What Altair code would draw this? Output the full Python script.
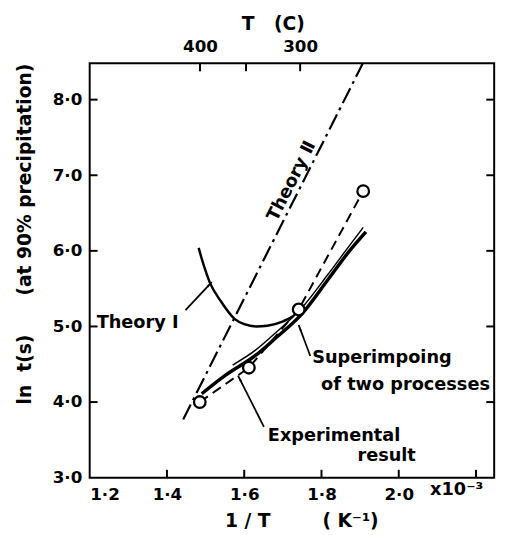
import math
import altair as alt
import pandas as pd

# ---------------- data ----------------
x_domain = [1.2, 2.247]          # 1/T  (x10^-3 K^-1)
y_domain = [3.0, 8.48]           # ln t(s)
x_ticks = [1.2, 1.4, 1.6, 1.8, 2.0, 2.2]
y_ticks = [3, 4, 5, 6, 7, 8]
right_ticks = [4, 5, 6, 7, 8]
top_T_C = [400, 350, 300]        # T (C) ticks on the top axis

# experimental result (circles joined by dashed line)
exp_x = [1.485, 1.612, 1.741, 1.908]
exp_y = [4.00, 4.455, 5.225, 6.79]

# Theory II (dash-dot straight line)
th2_x = [1.442, 1.907]
th2_y = [3.77, 8.48]

# Theory I (U-shaped curve)
th1_x = [1.482, 1.497, 1.511, 1.54, 1.575, 1.60, 1.631, 1.66, 1.699, 1.725]
th1_y = [6.04, 5.78, 5.58, 5.33, 5.10, 5.03, 5.00, 5.01, 5.065, 5.13]

# Superimposing of two processes (thick solid) and the thin companion line
sup_x = [1.490, 1.55, 1.63, 1.68, 1.75, 1.817, 1.868, 1.915]
sup_y = [4.11, 4.35, 4.62, 4.84, 5.17, 5.62, 5.97, 6.25]
sup2_x = [1.57, 1.63, 1.68, 1.75, 1.817, 1.868, 1.908]
sup2_y = [4.49, 4.69, 4.91, 5.25, 5.69, 6.04, 6.31]

# annotation texts and their anchors (data coordinates)
labels = ["Theory \u2160", "Superimpoing", "of two processes", "Experimental", "result"]
label_x = [1.218, 1.776, 1.799, 1.661, 1.893]
label_y = [5.04, 4.58, 4.23, 3.547, 3.286]

unit_label = "x10\u207b\u00b3"
unit_x = 2.150
unit_y = 2.835

th2_label = "Theory \u2161"
th2_label_x = 1.7233
th2_label_y = 6.92

# arrows: start -> tip
arrow_x1 = [1.448, 1.771, 1.651]
arrow_y1 = [5.217, 4.61, 3.673]
arrow_x2 = [1.516, 1.741, 1.584]
arrow_y2 = [5.587, 5.02, 4.35]

# ---------------- chart ----------------
W, H = 411, 421
px_x = W / (x_domain[1] - x_domain[0])
px_y = H / (y_domain[1] - y_domain[0])
TICK = 8  # inward tick length in px

FONT = "DejaVu Sans"
xs = alt.Scale(domain=x_domain, nice=False, zero=False)
ys = alt.Scale(domain=y_domain, nice=False, zero=False)

tick_style = dict(ticks=False, tickSize=0, domain=False, grid=False,
                  labelFont=FONT, labelFontSize=17, labelFontWeight="bold", labelColor="black",
                  titleFont=FONT, titleFontSize=19, titleFontWeight="bold", titleColor="black",
                  titleAlign="center", titleBaseline="middle")

fmt = "replace(format(datum.value, '.1f'), '.', '\u00b7')"

x_axis = alt.Axis(orient="bottom", values=x_ticks,
                  labelExpr="datum.value > 2.1 ? '' : " + fmt,
                  labelPadding=9,
                  title="1 / T" + "\u00a0" * 8 + "( K\u207b\u00b9)",
                  titleX=215, titleY=44, **tick_style)
y_axis = alt.Axis(orient="left", values=y_ticks, labelExpr=fmt, labelPadding=8,
                  title="ln\u00a0\u00a0t(s)" + "\u00a0" * 6 + "(at 90% precipitation)",
                  titleAngle=270, titleX=-66, titleY=173, **tick_style)

X = alt.X("x:Q", scale=xs, axis=x_axis)
Y = alt.Y("y:Q", scale=ys, axis=y_axis)


def df(xv, yv):
    return pd.DataFrame({"x": xv, "y": yv})


# inward ticks on all four sides
top_vals = [1000.0 / (c + 273.15) for c in top_T_C]
segs = []
for v in x_ticks[1:]:
    segs.append({"x": v, "x2": v, "y": y_domain[0], "y2": y_domain[0] + TICK / px_y})
for v in top_vals:
    segs.append({"x": v, "x2": v, "y": y_domain[1], "y2": y_domain[1] - TICK / px_y})
for v in y_ticks[1:]:
    segs.append({"x": x_domain[0], "x2": x_domain[0] + TICK / px_x, "y": v, "y2": v})
for v in right_ticks:
    segs.append({"x": x_domain[1], "x2": x_domain[1] - TICK / px_x, "y": v, "y2": v})
ticks_layer = alt.Chart(pd.DataFrame(segs)).mark_rule(color="black", strokeWidth=2).encode(
    x=X, y=Y, x2="x2:Q", y2="y2:Q")

th2 = alt.Chart(df(th2_x, th2_y)).mark_line(
    color="black", strokeWidth=2.2, strokeDash=[17, 5, 3, 5]).encode(x=X, y=Y)
th1 = alt.Chart(df(th1_x, th1_y)).mark_line(
    color="black", strokeWidth=2.5, interpolate="monotone").encode(x=X, y=Y)
sup = alt.Chart(df(sup_x, sup_y)).mark_line(
    color="black", strokeWidth=3.5, interpolate="monotone").encode(x=X, y=Y)
sup2 = alt.Chart(df(sup2_x, sup2_y)).mark_line(
    color="black", strokeWidth=1.5, interpolate="monotone").encode(x=X, y=Y)
exp_line = alt.Chart(df(exp_x, exp_y)).mark_line(
    color="black", strokeWidth=2, strokeDash=[10, 6]).encode(x=X, y=Y)
exp_pts = alt.Chart(df(exp_x, exp_y)).mark_point(
    shape="circle", filled=True, fill="white", stroke="black", strokeWidth=2.3,
    size=140, opacity=1).encode(x=X, y=Y)

arr = pd.DataFrame({"x": arrow_x1, "y": arrow_y1, "x2": arrow_x2, "y2": arrow_y2})
arr_lines = alt.Chart(arr).mark_rule(color="black", strokeWidth=1.8).encode(
    x=X, y=Y, x2="x2:Q", y2="y2:Q")

heads = []
for a, b, c, d in zip(arrow_x1, arrow_y1, arrow_x2, arrow_y2):
    dx = (c - a) * px_x
    dy = (d - b) * px_y
    ang = math.degrees(math.atan2(dx, dy)) % 360
    L = math.hypot(dx, dy)
    back = 4.0
    heads.append({"x": c - dx / L * back / px_x, "y": d - dy / L * back / px_y, "ang": ang})
arr_heads = alt.Chart(pd.DataFrame(heads)).mark_point(
    shape="wedge", filled=True, color="black", size=70, opacity=1).encode(
    x=X, y=Y, angle=alt.Angle("ang:Q", scale=None))

lab = pd.DataFrame({"x": label_x, "y": label_y, "t": labels})
texts = alt.Chart(lab).mark_text(
    align="left", baseline="middle", font=FONT, fontSize=18, fontWeight="bold",
    color="black").encode(x=X, y=Y, text="t:N")
unit_text = alt.Chart(pd.DataFrame({"x": [unit_x], "y": [unit_y], "t": [unit_label]})).mark_text(
    align="center", baseline="middle", font=FONT, fontSize=18, fontWeight="bold",
    color="black").encode(x=X, y=Y, text="t:N")

ang2 = math.degrees(math.atan2((th2_y[1] - th2_y[0]) * px_y, (th2_x[1] - th2_x[0]) * px_x))
th2_text = alt.Chart(pd.DataFrame({"x": [th2_label_x], "y": [th2_label_y], "t": [th2_label]})).mark_text(
    align="center", baseline="middle", font=FONT, fontSize=18, fontWeight="bold",
    color="black", angle=(360 - ang2) % 360).encode(x=X, y=Y, text="t:N")

main = alt.layer(ticks_layer, th2, th1, exp_line, sup, sup2, arr_lines, arr_heads, exp_pts,
                 texts, unit_text, th2_text)

# top axis: T (C) labels
top_df = pd.DataFrame({"x": top_vals, "y": [5.0] * len(top_vals)})
top_axis = alt.Axis(orient="top", values=top_vals,
                    labelExpr="datum.value < 1.55 ? '400' : (datum.value > 1.7 ? '300' : '')",
                    labelPadding=8, title="T\u00a0\u00a0\u00a0(C)", titleX=186, titleY=-40,
                    **tick_style)
top_layer = alt.Chart(top_df).mark_point(opacity=0).encode(
    x=alt.X("x:Q", scale=xs, axis=top_axis),
    y=alt.Y("y:Q", scale=ys, axis=None))

chart = alt.layer(main, top_layer).resolve_scale(
    x="independent", y="independent"
).properties(
    width=W, height=H,
    autosize=alt.AutoSizeParams(type="none"),
    padding={"left": 83, "top": 52, "right": 11, "bottom": 54},
    background="white",
).configure_view(stroke="black", strokeWidth=2)

chart.save("out.html", embed_options={"renderer": "svg", "actions": False})
